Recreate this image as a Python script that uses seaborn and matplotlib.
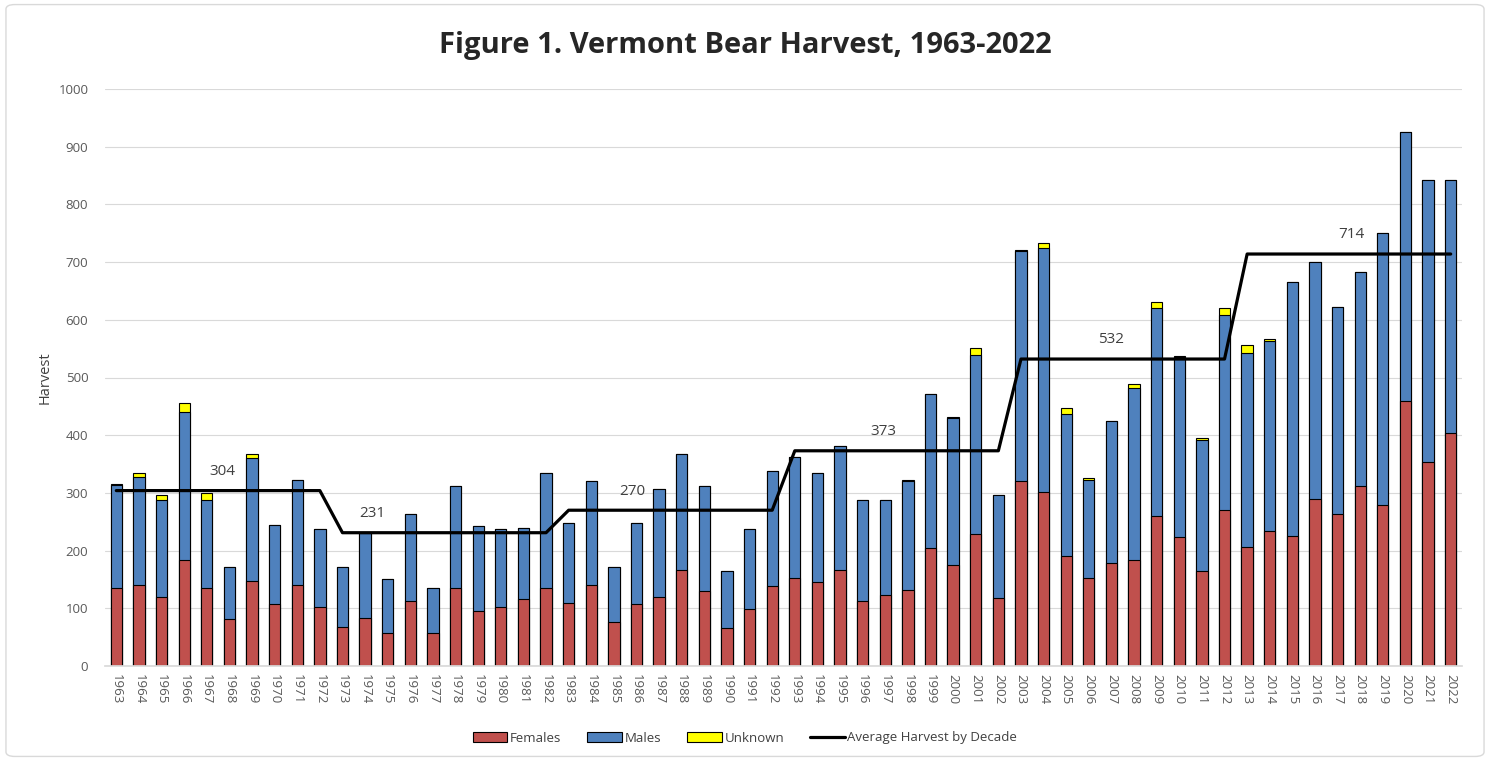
import matplotlib
matplotlib.use("Agg")
import matplotlib.pyplot as plt
import numpy as np
import pandas as pd
import seaborn as sns
from matplotlib.patches import Patch, FancyBboxPatch
from matplotlib.lines import Line2D

years = list(range(1963, 2023))
females = [135, 140, 120, 184, 135, 82, 148, 107, 140, 102,
           68, 83, 58, 113, 57, 135, 95, 102, 116, 135,
           109, 140, 76, 107, 120, 166, 130, 66, 99, 139,
           153, 145, 166, 113, 123, 131, 204, 175, 229, 118,
           321, 302, 190, 152, 178, 184, 260, 224, 165, 270,
           206, 234, 225, 289, 263, 312, 279, 459, 354, 404]
males = [178, 187, 168, 256, 153, 90, 213, 137, 182, 136,
         104, 147, 92, 151, 79, 177, 148, 136, 124, 200,
         138, 180, 95, 140, 186, 202, 182, 98, 139, 199,
         210, 190, 216, 175, 164, 189, 268, 254, 310, 178,
         399, 423, 246, 171, 246, 298, 361, 312, 227, 338,
         336, 329, 441, 411, 360, 371, 472, 467, 488, 438]
unknown = [3, 7, 8, 15, 12, 0, 7, 0, 0, 0,
           0, 0, 0, 0, 0, 0, 0, 0, 0, 0,
           0, 0, 0, 0, 0, 0, 0, 0, 0, 0,
           0, 0, 0, 0, 0, 3, 0, 3, 12, 0,
           1, 8, 12, 2, 0, 6, 9, 1, 4, 12,
           15, 4, 0, 0, 0, 0, 0, 0, 1, 0]
decade_avg = [304, 231, 270, 373, 532, 714]

df = pd.DataFrame({"year": [str(y) for y in years],
                   "Females": females, "Males": males, "Unknown": unknown})
df["fm"] = df["Females"] + df["Males"]
df["total"] = df["fm"] + df["Unknown"]
df["avg"] = np.repeat(decade_avg, 10)

c_f, c_m, c_u = "#C0504D", "#4F81BD", "#FFFF00"
font = ["Open Sans", "DejaVu Sans"]

sns.set_theme(style="white")
plt.rcParams["font.family"] = font

fig = plt.figure(figsize=(14.9, 7.61), dpi=100)
ax = fig.add_axes([105 / 1490, 1 - 666 / 761, 1357 / 1490, 577 / 761])

# stacked bars drawn as layered cumulative totals
bar_kw = dict(width=0.5, edgecolor="black", linewidth=0.8, ax=ax, saturation=1)
sns.barplot(data=df, x="year", y="total", color=c_u, **bar_kw)
sns.barplot(data=df, x="year", y="fm", color=c_m, **bar_kw)
sns.barplot(data=df, x="year", y="Females", color=c_f, **bar_kw)

sns.lineplot(x=np.arange(len(years)), y=df["avg"], color="black", lw=2.3, ax=ax)

label_pos = [4.7, 11.3, 22.8, 33.9, 44.0, 54.6]
for xp, v in zip(label_pos, decade_avg):
    ax.text(xp, v + 20, str(v), ha="center", va="bottom", fontsize=11, color="#404040")

ax.set_xlim(-0.5, len(years) - 0.5)
ax.set_ylim(0, 1000)
ax.set_yticks(range(0, 1001, 100))
ax.yaxis.grid(True, color="#D9D9D9", lw=0.8)
ax.set_axisbelow(True)
for s in ["top", "right", "left"]:
    ax.spines[s].set_visible(False)
ax.spines["bottom"].set_color("#D9D9D9")
ax.tick_params(axis="x", rotation=-90, labelsize=9.5, colors="#595959", length=0, pad=6)
ax.tick_params(axis="y", labelsize=9.5, colors="#595959", length=0, pad=12)
ax.set_xlabel("")
ax.set_ylabel("Harvest", fontsize=10.5, color="#404040", labelpad=4)

fig.suptitle("Figure 1. Vermont Bear Harvest, 1963-2022", fontsize=21, fontweight="bold",
             y=1 - 45 / 761, va="center", x=0.5)

handles = [Patch(facecolor=c_f, edgecolor="black", lw=0.8, label="Females"),
           Patch(facecolor=c_m, edgecolor="black", lw=0.8, label="Males"),
           Patch(facecolor=c_u, edgecolor="black", lw=0.8, label="Unknown"),
           Line2D([], [], color="black", lw=2.3, label="Average Harvest by Decade")]
fig.legend(handles=handles, loc="center", bbox_to_anchor=(0.5, 1 - 738 / 761), ncol=4,
           frameon=False, fontsize=9.5, handlelength=2.6, handleheight=0.8,
           handletextpad=0.2, columnspacing=2.0, labelcolor="#404040")

fig.patches.append(FancyBboxPatch((0.004, 0.006), 0.992, 0.988, boxstyle="round,pad=0,rounding_size=0.006",
                                  transform=fig.transFigure, fill=False, edgecolor="#D9D9D9", lw=1))

fig.savefig("out.png", dpi=100)
